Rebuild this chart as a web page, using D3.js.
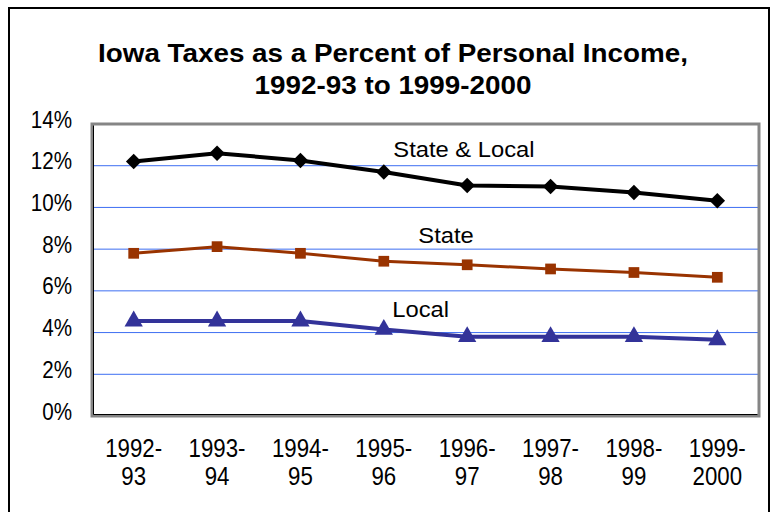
<!DOCTYPE html>
<html>
<head>
<meta charset="utf-8">
<script src="https://cdn.jsdelivr.net/npm/d3@7"></script>
<style>
  body { margin: 0; background: #fff; }
  svg text { font-family: "Liberation Sans", Arial, sans-serif; fill: #000; }
</style>
</head>
<body>
<svg id="chart" width="775" height="512"></svg>
<script>
// data
const years = ["1992-93","1993-94","1994-95","1995-96","1996-97","1997-98","1998-99","1999-2000"];
const yearLines = [["1992-","93"],["1993-","94"],["1994-","95"],["1995-","96"],["1996-","97"],["1997-","98"],["1998-","99"],["1999-","2000"]];
const stateLocal = [12.2, 12.6, 12.25, 11.7, 11.05, 11.0, 10.72, 10.32];
const stateOnly  = [7.8, 8.12, 7.8, 7.42, 7.25, 7.05, 6.88, 6.65];
const localOnly  = [4.55, 4.55, 4.55, 4.15, 3.8, 3.8, 3.8, 3.65];
const yTicks = [0, 2, 4, 6, 8, 10, 12, 14];
const titleLines = ["Iowa Taxes as a Percent of Personal Income,", "1992-93 to 1999-2000"];

const svg = d3.select("#chart");
const plot = {left: 92, right: 759, top: 124, bottom: 416};

const x = d3.scaleBand().domain(years).range([plot.left, plot.right]);
const y = d3.scaleLinear().domain([0, 14]).range([plot.bottom, plot.top]);
const cx = d => x(d) + x.bandwidth() / 2;

// the picture's fonts are stretched a bit, so scale text horizontally
function stretched(sel, px, py, txt, size, sx, anchor, weight) {
  return sel.append("g")
    .attr("transform", `translate(${px},${py}) scale(${sx},1)`)
    .append("text")
    .attr("text-anchor", anchor || "middle")
    .style("font-size", size + "px")
    .style("font-weight", weight || "normal")
    .text(txt);
}

// outer frame
svg.append("rect").attr("x", 9).attr("y", 8).attr("width", 760).attr("height", 520)
  .attr("fill", "none").attr("stroke", "#000").attr("stroke-width", 2);

// title
titleLines.forEach((t, i) => stretched(svg, 393, 62 + i * 32, t, 26.5, 1.05, "middle", "bold"));

// gridlines
svg.append("g").selectAll("line").data(yTicks.filter(d => d > 0)).join("line")
  .attr("x1", plot.left).attr("x2", plot.right)
  .attr("y1", d => y(d)).attr("y2", d => y(d))
  .attr("stroke", "#3d6ef2").attr("stroke-width", 1);

// plot frame
svg.append("rect").attr("x", plot.left).attr("y", plot.top)
  .attr("width", plot.right - plot.left).attr("height", plot.bottom - plot.top)
  .attr("fill", "none").attr("stroke", "#858585").attr("stroke-width", 3);
svg.append("path")
  .attr("d", `M${plot.left + 1.5},${plot.top + 1.5}V${plot.bottom - 1.5}H${plot.right - 1.5}`)
  .attr("fill", "none").attr("stroke", "#000").attr("stroke-width", 1);

// y axis labels
const yLab = svg.append("g");
yTicks.forEach(t => stretched(yLab, 72, y(t) + 3.5, t + "%", 24, 0.86, "end"));

// x axis labels
const xLab = svg.append("g");
years.forEach((yr, i) => {
  yearLines[i].forEach((ln, j) => stretched(xLab, cx(yr), 457 + j * 28, ln, 25, 0.89, "middle"));
});

// series (diamond = square turned 45deg)
const series = [
  {name: "State & Local", vals: stateLocal, color: "#000000", width: 4, shape: d3.symbolSquare, size: 120, rot: 45},
  {name: "State", vals: stateOnly, color: "#993300", width: 3, shape: d3.symbolSquare, size: 115, rot: 0},
  {name: "Local", vals: localOnly, color: "#333399", width: 4, shape: d3.symbolTriangle, size: 145, rot: 0}
];

const line = d3.line().x(d => cx(d.yr)).y(d => y(d.v));
series.forEach(s => {
  const pts = years.map((yr, i) => ({yr: yr, v: s.vals[i]}));
  svg.append("path").datum(pts).attr("d", line)
    .attr("fill", "none").attr("stroke", s.color).attr("stroke-width", s.width)
    .attr("stroke-linejoin", "round");
  svg.append("g").selectAll("path").data(pts).join("path")
    .attr("transform", d => `translate(${cx(d.yr)},${y(d.v)}) rotate(${s.rot})`)
    .attr("d", d3.symbol().type(s.shape).size(s.size))
    .attr("fill", s.color);
});

// series labels
const labels = [
  {text: "State & Local", yr: "1995-96", dx: 9.5, v: 12.44},
  {text: "State", yr: "1995-96", dx: 34.5, v: 8.29},
  {text: "Local", yr: "1995-96", dx: 8.5, v: 4.75}
];
labels.forEach(l => stretched(svg, cx(l.yr) + l.dx, y(l.v), l.text, 22, 1.08, "start"));
</script>
</body>
</html>
